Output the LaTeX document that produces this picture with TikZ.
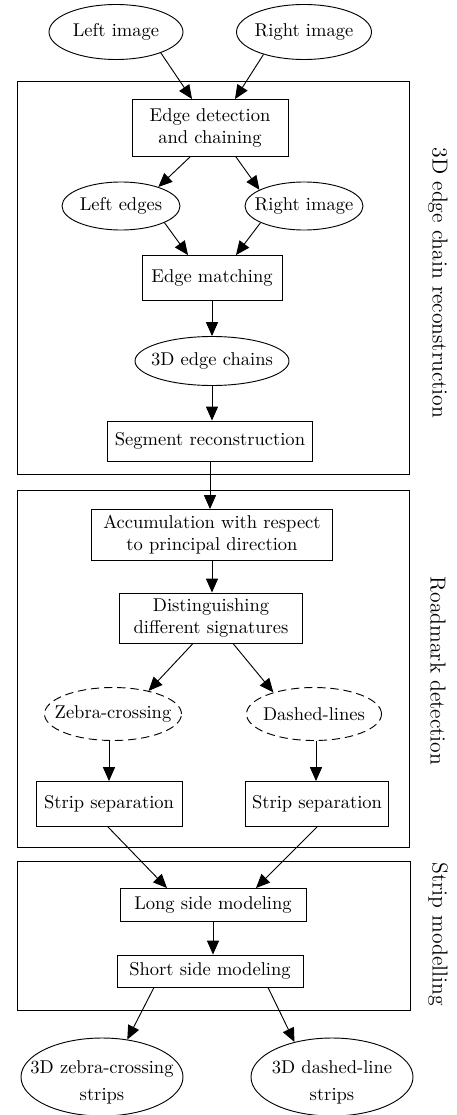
\documentclass[tikz,border=0pt]{standalone}
\usetikzlibrary{shapes.geometric,arrows.meta,calc}
\newcommand{\pxl}{0.5397pt}
\begin{document}
\begin{tikzpicture}[x=0.5397pt,y=-0.5397pt,
  line width=0.5pt,
  every node/.style={font=\fontsize{10}{12}\selectfont},
  box/.style={draw, rectangle, inner sep=0pt, align=center},
  oval/.style={draw, ellipse, inner sep=0pt},
  dashoval/.style={oval, dash pattern=on 4.5pt off 2.6pt},
  ovtext/.style={anchor=center, align=center, inner sep=0pt},
  frame/.style={draw},
  arr/.style={-{Triangle[length=7.5pt,width=6.5pt]}},
  side/.style={rotate=-90, font=\fontsize{11.7}{14}\selectfont}]
\useasboundingbox (0,0) rectangle (457,1115);

% group frames
\draw[frame] (17,81) rectangle (409,474);
\draw[frame] (17,490) rectangle (409,847);
\draw[frame] (17,861) rectangle (410,1010);

\node[side] (l1) at (438,283) {3D edge chain reconstruction};
\node[side] (l2) at (438,671) {Roadmark detection};
\node[side] (l3) at (438,934) {Strip modelling};

% nodes
\node[oval, minimum width=134*\pxl, minimum height=55*\pxl, label={[ovtext]center:Left image}] (li) at (116,32) {};
\node[oval, minimum width=135*\pxl, minimum height=55*\pxl, label={[ovtext]center:Right image}] (ri) at (304,32) {};
\node[box, minimum width=156*\pxl, minimum height=57*\pxl] (ed) at (210,128) {Edge detection\\and chaining};
\node[oval, minimum width=118*\pxl, minimum height=48*\pxl, label={[ovtext]center:Left edges}] (le) at (121,206) {};
\node[oval, minimum width=118*\pxl, minimum height=48*\pxl, label={[ovtext]center:Right image}] (re) at (304,206) {};
\node[box, minimum width=140*\pxl, minimum height=45*\pxl] (em) at (212,278) {Edge matching};
\node[oval, minimum width=154*\pxl, minimum height=49*\pxl, label={[ovtext]center:3D edge chains}] (ec) at (212,361) {};
\node[box, minimum width=205*\pxl, minimum height=40*\pxl] (sr) at (210,441) {Segment reconstruction};

\node[box, minimum width=241*\pxl, minimum height=51*\pxl] (acc) at (212,535) {Accumulation with respect\\to principal direction};
\node[box, minimum width=183*\pxl, minimum height=50*\pxl] (dist) at (211,618) {Distinguishing\\different signatures};
\node[dashoval, minimum width=137*\pxl, minimum height=53*\pxl, label={[ovtext]center:Zebra-crossing}] (zc) at (113,714) {};
\node[dashoval, minimum width=135*\pxl, minimum height=53*\pxl, label={[ovtext]center:Dashed-lines}] (dl) at (314,714) {};
\node[box, minimum width=146*\pxl, minimum height=45*\pxl] (ssl) at (109,804) {Strip separation};
\node[box, minimum width=143*\pxl, minimum height=45*\pxl] (ssr) at (317,804) {Strip separation};

\node[box, minimum width=186*\pxl, minimum height=33*\pxl] (lsm) at (213,905) {Long side modeling};
\node[box, minimum width=186*\pxl, minimum height=32*\pxl] (ssm) at (210,971) {Short side modeling};
\node[oval, minimum width=162*\pxl, minimum height=78*\pxl, label={[ovtext, yshift=-2.7pt]center:3D zebra-crossing\\[2.6pt]strips}] (zs) at (102,1077) {};
\node[oval, minimum width=162*\pxl, minimum height=78*\pxl, label={[ovtext, yshift=-2.7pt]center:3D dashed-line\\[2.6pt]strips}] (ds) at (332,1077) {};

% connectors
\draw[arr] (li.-25) -- ($(ed.north)+(-18,0)$);
\draw[arr] (ri.209) -- ($(ed.north)+(25,0)$);
\draw[arr] ($(ed.south)+(-20,0)$) -- (le.27);
\draw[arr] ($(ed.south)+(26,0)$) -- (re.160);
\draw[arr] (le.-21) -- ($(em.north)+(-24,0)$);
\draw[arr] (re.201) -- ($(em.north)+(24,0)$);
\draw[arr] (em.south) -- (ec.north);
\draw[arr] (ec.south) -- (ec.south |- sr.north);
\draw[arr] (sr.south) -- (sr.south |- acc.north);
\draw[arr] (acc.south) -- (acc.south |- dist.north);
\draw[arr] ($(dist.south)+(-18,0)$) -- (zc.33);
\draw[arr] ($(dist.south)+(22,0)$) -- (dl.152);
\draw[arr] (zc.south -| ssl.north) -- (ssl.north);
\draw[arr] ($(dl.south)+(2,0)$) -- ($(ssr.north)+(-1,0)$);
\draw[arr] ($(ssl.south)+(-1,0)$) -- ($(lsm.north)+(-46,0)$);
\draw[arr] (ssr.south) -- ($(lsm.north)+(43,0)$);
\draw[arr] (lsm.south) -- (lsm.south |- ssm.north);
\draw[arr] ($(ssm.south)+(-56,0)$) -- (zs.56);
\draw[arr] ($(ssm.south)+(58,0)$) -- (ds.137);
\end{tikzpicture}
\end{document}
